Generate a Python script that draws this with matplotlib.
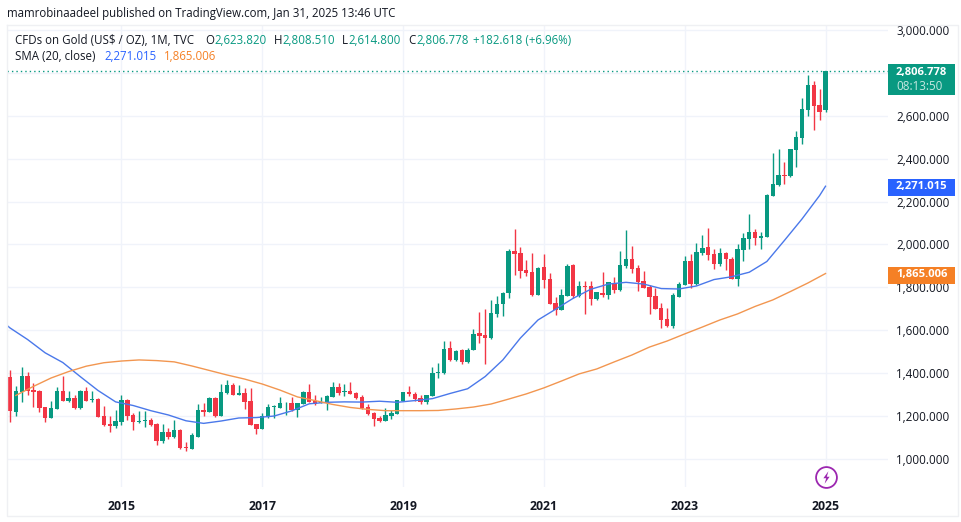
import matplotlib
matplotlib.use("Agg")
import matplotlib.pyplot as plt
from matplotlib.lines import Line2D
import numpy as np

plt.rcParams['font.family'] = ['Open Sans', 'DejaVu Sans']

# monthly candles, Jun 2013 to Jan 2025
opens = [1385, 1223, 1313, 1389, 1324, 1320, 1243, 1195, 1235, 1319, 1272, 1286, 1240, 1319,
         1277, 1282, 1203, 1165, 1156, 1176, 1277, 1207, 1175, 1178, 1184, 1165, 1086, 1127,
         1105, 1137, 1057, 1051, 1106, 1230, 1223, 1286, 1203, 1311, 1347, 1302, 1311, 1272,
         1165, 1144, 1196, 1243, 1241, 1261, 1261, 1230, 1258, 1314, 1274, 1263, 1261, 1292,
         1337, 1313, 1319, 1311, 1291, 1243, 1217, 1193, 1179, 1203, 1212, 1272, 1314, 1305,
         1285, 1269, 1296, 1403, 1403, 1519, 1463, 1508, 1454, 1509, 1589, 1579, 1565, 1677,
         1723, 1776, 1970, 1960, 1880, 1872, 1765, 1895, 1840, 1726, 1697, 1762, 1905, 1761,
         1807, 1807, 1748, 1773, 1765, 1820, 1788, 1902, 1933, 1891, 1832, 1802, 1760, 1705,
         1654, 1621, 1757, 1813, 1923, 1816, 1960, 1988, 1956, 1909, 1960, 1933, 1841, 1974,
         2026, 2058, 2032, 2035, 2226, 2277, 2325, 2319, 2439, 2495, 2625, 2742, 2649, 2623.82]
highs = [1416, 1342, 1429, 1409, 1355, 1322, 1246, 1272, 1336, 1389, 1320, 1300, 1322, 1339,
         1320, 1285, 1249, 1204, 1230, 1299, 1280, 1215, 1226, 1224, 1193, 1168, 1165, 1145,
         1184, 1141, 1079, 1122, 1257, 1261, 1292, 1292, 1351, 1370, 1358, 1347, 1331, 1331,
         1165, 1215, 1257, 1254, 1292, 1266, 1292, 1265, 1319, 1351, 1300, 1292, 1300, 1359,
         1354, 1351, 1361, 1316, 1300, 1258, 1223, 1203, 1238, 1230, 1279, 1316, 1342, 1316,
         1300, 1300, 1432, 1450, 1551, 1551, 1509, 1513, 1517, 1607, 1685, 1700, 1742, 1761,
         1781, 1979, 2072, 1987, 1928, 1960, 1897, 1956, 1866, 1754, 1792, 1909, 1908, 1830,
         1830, 1830, 1781, 1872, 1826, 1849, 1968, 2068, 1992, 1903, 1877, 1812, 1799, 1726,
         1703, 1773, 1827, 1947, 1956, 2008, 2044, 2077, 1978, 1982, 1964, 1943, 2002, 2052,
         2142, 2071, 2060, 2233, 2426, 2444, 2384, 2445, 2528, 2681, 2788, 2760, 2723, 2808.51]
lows = [1176, 1203, 1269, 1300, 1246, 1223, 1176, 1193, 1233, 1272, 1266, 1237, 1237, 1270,
        1266, 1196, 1158, 1130, 1145, 1161, 1184, 1137, 1172, 1153, 1156, 1068, 1075, 1094,
        1099, 1051, 1041, 1048, 1105, 1203, 1220, 1196, 1200, 1305, 1299, 1300, 1235, 1159,
        1119, 1142, 1192, 1192, 1238, 1207, 1227, 1199, 1257, 1266, 1255, 1261, 1230, 1289,
        1300, 1296, 1303, 1280, 1235, 1207, 1156, 1175, 1178, 1190, 1210, 1271, 1296, 1274,
        1260, 1258, 1294, 1378, 1399, 1460, 1460, 1444, 1451, 1507, 1544, 1444, 1562, 1664,
        1668, 1753, 1858, 1846, 1855, 1762, 1763, 1798, 1722, 1674, 1695, 1761, 1750, 1757,
        1678, 1720, 1744, 1756, 1747, 1776, 1785, 1889, 1869, 1784, 1796, 1677, 1699, 1612,
        1615, 1612, 1756, 1812, 1799, 1812, 1951, 1928, 1886, 1902, 1881, 1838, 1809, 1925,
        1978, 1998, 1979, 2033, 2225, 2272, 2281, 2314, 2362, 2467, 2598, 2532, 2579, 2614.8]
closes = [1227, 1320, 1389, 1320, 1314, 1240, 1195, 1240, 1319, 1274, 1285, 1240, 1319, 1272,
          1282, 1199, 1161, 1156, 1179, 1277, 1203, 1176, 1178, 1184, 1161, 1088, 1127, 1106,
          1137, 1055, 1054, 1114, 1230, 1223, 1288, 1203, 1314, 1347, 1302, 1308, 1269, 1162,
          1144, 1203, 1244, 1246, 1261, 1265, 1230, 1261, 1314, 1269, 1258, 1268, 1296, 1336,
          1308, 1319, 1305, 1285, 1238, 1212, 1189, 1178, 1207, 1217, 1277, 1314, 1305, 1282,
          1269, 1299, 1403, 1406, 1514, 1463, 1505, 1455, 1509, 1584, 1576, 1567, 1682, 1723,
          1776, 1971, 1957, 1878, 1868, 1765, 1891, 1835, 1725, 1697, 1765, 1900, 1759, 1807,
          1802, 1748, 1778, 1767, 1826, 1790, 1905, 1933, 1888, 1826, 1799, 1757, 1702, 1650,
          1621, 1764, 1816, 1923, 1816, 1965, 1982, 1953, 1909, 1960, 1934, 1841, 1979, 2030,
          2058, 2032, 2038, 2230, 2280, 2323, 2320, 2444, 2498, 2629, 2742, 2644, 2616, 2806.778]

# SMA lines, read about every third month
blue_months = [-1, 0, 3, 6, 9, 12, 15, 18, 21, 24, 27, 30, 33, 36, 39, 42, 45, 48, 51, 54, 57, 60,
               63, 66, 69, 72, 75, 78, 81, 84, 87, 90, 93, 96, 99, 102, 105, 108, 111, 114, 117,
               120, 123, 126, 129, 132, 135, 138, 139]
sma_blue = [1635, 1612, 1558, 1496, 1451, 1385, 1321, 1268, 1251, 1227, 1207, 1180, 1168, 1179,
            1193, 1195, 1202, 1226, 1259, 1266, 1268, 1267, 1271, 1266, 1274, 1283, 1307, 1329,
            1386, 1463, 1565, 1649, 1699, 1750, 1792, 1816, 1824, 1816, 1795, 1793, 1807, 1837,
            1850, 1871, 1921, 2019, 2119, 2228, 2271.015]
orange_months = [1, 4, 7, 10, 13, 16, 19, 22, 25, 28, 31, 34, 37, 40, 43, 46, 49, 52, 55, 58, 61,
                 64, 67, 70, 73, 76, 79, 82, 85, 88, 91, 94, 97, 100, 103, 106, 109, 112, 115,
                 118, 121, 124, 127, 130, 133, 136, 139]
sma_orange = [1298, 1340, 1379, 1409, 1434, 1450, 1458, 1463, 1460, 1454, 1435, 1414, 1393, 1374,
              1351, 1323, 1291, 1274, 1256, 1242, 1233, 1227, 1227, 1227, 1228, 1235, 1244, 1258,
              1281, 1305, 1333, 1365, 1398, 1421, 1454, 1486, 1523, 1551, 1584, 1616, 1649, 1677,
              1712, 1742, 1781, 1821, 1865.006]

year_ticks = [19, 43, 67, 91, 115, 139]
year_labels = ['2015', '2017', '2019', '2021', '2023', '2025']
price_ticks = list(range(1000, 3001, 200))

GREEN = '#089981'
RED = '#f23645'
BLUE = '#2962ff'
ORANGE = '#f58025'
GRID = '#f0f3fa'
TEXT = '#131722'
PURPLE = '#9c27b0'

W, H = 962, 522
fig = plt.figure(figsize=(W / 100, H / 100), dpi=100, facecolor='white')
ax = fig.add_axes([7 / W, 1 - 487 / H, 881 / W, 462 / H])


def fx(x):
    return x / W


def fy(y):
    return 1 - y / H


months = np.arange(len(opens))
o, h, l, c = map(np.array, (opens, highs, lows, closes))
colors = np.where(c >= o, GREEN, RED)

# grid
ax.set_axisbelow(True)
ax.grid(color=GRID, lw=1)

# candles
ax.vlines(months, l, h, colors=colors, lw=1, zorder=3)
ax.bar(months, np.maximum(np.abs(c - o), 4), bottom=np.minimum(o, c), width=0.75, color=colors, zorder=3)

# sma
ax.plot(blue_months, sma_blue, color='#4a78ea', lw=1.0, zorder=4)
ax.plot(orange_months, sma_orange, color='#f29650', lw=1.0, zorder=4)

# last price line
ax.axhline(closes[-1], color=GREEN, lw=1, ls=(0, (1, 2.2)), zorder=2)

ax.set_xlim(-0.51, 149.65)
ax.set_ylim(872, 3021)
ax.set_xticks(year_ticks)
ax.set_xticklabels(year_labels, fontsize=8.8, fontweight='bold', color=TEXT)
ax.set_yticks(price_ticks)
# the 2,800 label sits behind the last price tag, so it is left empty
ax.set_yticklabels(['' if p == 2800 else f'{p:,.3f}' for p in price_ticks], fontsize=8.4, color=TEXT)
ax.yaxis.tick_right()
ax.tick_params(length=0)
ax.tick_params(axis='y', pad=6)
ax.tick_params(axis='x', pad=9)
for s in ax.spines.values():
    s.set_visible(False)

# outer frame
frame_x = [6.5, 6.5, 958, 958, 6.5]
frame_y = [24.5, 516, 516, 24.5, 24.5]
fig.add_artist(Line2D([fx(v) for v in frame_x], [fy(v) for v in frame_y], color='#eff0f3', lw=1))

# purple icon on the last bar
bolt = [(0.3, 1), (-0.5, -0.12), (-0.05, -0.12), (-0.3, -1), (0.5, 0.12), (0.05, 0.12)]
ax.plot([139], [920], marker='o', ms=15, mfc='white', mec=PURPLE, mew=1.3, zorder=5, clip_on=False)
ax.plot([139], [920], marker=bolt, ms=9, mfc=PURPLE, mec=PURPLE, mew=0, zorder=6, clip_on=False)

# header
fig.text(fx(7), fy(13), 'mamrobinaadeel published on TradingView.com, Jan 31, 2025 13:46 UTC',
         fontsize=8.3, color=TEXT, va='center')
legend_row1 = [(15, 'CFDs on Gold (US$ / OZ), 1M, TVC', TEXT), (205.5, 'O', TEXT), (214, '2,623.820', GREEN),
               (274, 'H', TEXT), (282, '2,808.510', GREEN), (342, 'L', TEXT), (348, '2,614.800', GREEN),
               (408, 'C', TEXT), (416, '2,806.778', GREEN), (473, '+182.618 (+6.96%)', GREEN)]
for x, s, col in legend_row1:
    fig.text(fx(x), fy(40), s, fontsize=8.3, color=col, va='center', parse_math=False)
legend_row2 = [(15, 'SMA (20, close)', TEXT), (104, '2,271.015', BLUE), (164, '1,865.006', ORANGE)]
for x, s, col in legend_row2:
    fig.text(fx(x), fy(57), s, fontsize=8.3, color=col, va='center')

# price tags
tags = [(64, 31, GREEN), (179, 17, BLUE), (267, 17, ORANGE)]
for y, hgt, col in tags:
    fig.add_artist(plt.Rectangle((fx(888), fy(y + hgt)), 67 / W, hgt / H, transform=fig.transFigure,
                                 color=col, lw=0))
fig.text(fx(896), fy(72), '2,806.778', fontsize=8.1, fontweight='bold', color='white', va='center')
fig.text(fx(896), fy(87), '08:13:50', fontsize=8.4, color='#c5e8e1', va='center')
fig.text(fx(896), fy(187), '2,271.015', fontsize=8.1, fontweight='bold', color='white', va='center')
fig.text(fx(896), fy(275), '1,865.006', fontsize=8.1, fontweight='bold', color='white', va='center')

fig.savefig('out.png', dpi=100)
